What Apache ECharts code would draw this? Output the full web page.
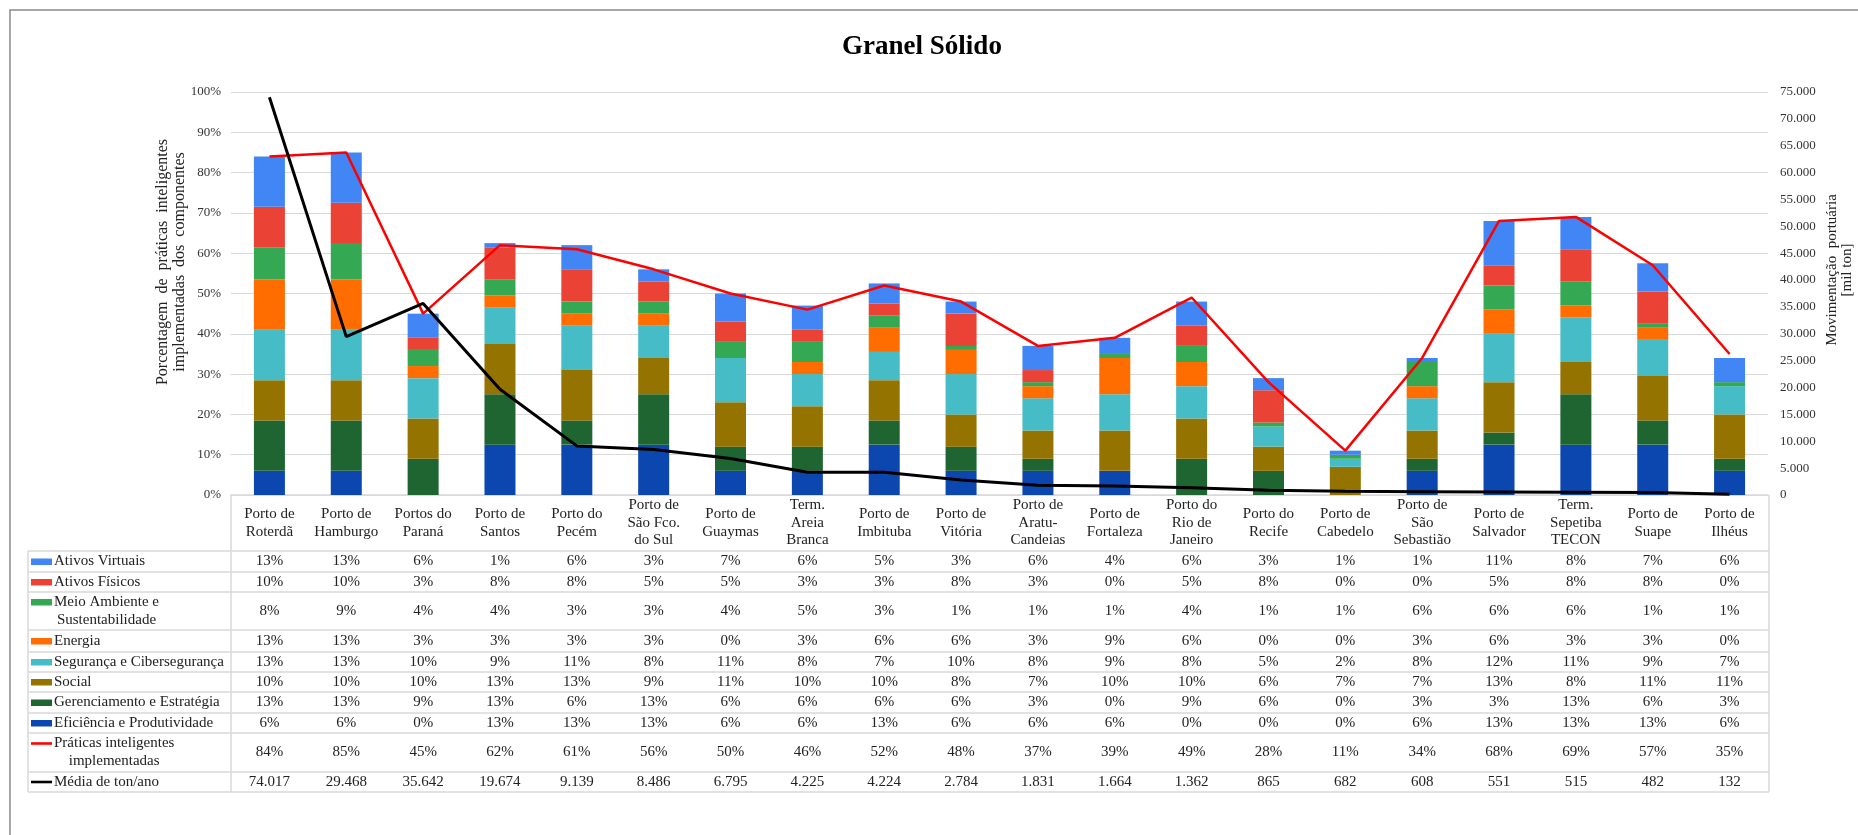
<!DOCTYPE html>
<html><head><meta charset="utf-8">
<script src="https://cdn.jsdelivr.net/npm/echarts@6/dist/echarts.min.js"></script>
<style>html,body{margin:0;padding:0;background:#fff}#c{width:1858px;height:835px}</style>
</head><body><div id="c"></div>
<script>
const categories = ['Porto de\nRoterdã','Porto de\nHamburgo','Portos do\nParaná','Porto de\nSantos','Porto do\nPecém','Porto de\nSão Fco.\ndo Sul','Porto de\nGuaymas','Term.\nAreia\nBranca','Porto de\nImbituba','Porto de\nVitória','Porto de\nAratu-\nCandeias','Porto de\nFortaleza','Porto do\nRio de\nJaneiro','Porto do\nRecife','Porto de\nCabedelo','Porto de\nSão\nSebastião','Porto de\nSalvador','Term.\nSepetiba\nTECON','Porto de\nSuape','Porto de\nIlhéus'];
// component shares (%); 12.5 = component maximum, shown as 13% in the table
const ativosVirtuais = [12.5,12.5,6,1,6,3,7,6,5,3,6,4,6,3,1,1,11,8,7,6];
const ativosFisicos  = [10,10,3,8,8,5,5,3,3,8,3,0,5,8,0,0,5,8,8,0];
const meioAmbiente   = [8,9,4,4,3,3,4,5,3,1,1,1,4,1,1,6,6,6,1,1];
const energia        = [12.5,12.5,3,3,3,3,0,3,6,6,3,9,6,0,0,3,6,3,3,0];
const seguranca      = [12.5,12.5,10,9,11,8,11,8,7,10,8,9,8,5,2,8,12,11,9,7];
const social         = [10,10,10,12.5,12.5,9,11,10,10,8,7,10,10,6,7,7,12.5,8,11,11];
const gerenciamento  = [12.5,12.5,9,12.5,6,12.5,6,6,6,6,3,0,9,6,0,3,3,12.5,6,3];
const eficiencia     = [6,6,0,12.5,12.5,12.5,6,6,12.5,6,6,6,0,0,0,6,12.5,12.5,12.5,6];
const praticas       = [84,85,45,62,61,56,50,46,52,48,37,39,49,28,11,34,68,69,57,35];
const mediaTon       = [74017,29468,35642,19674,9139,8486,6795,4225,4224,2784,1831,1664,1362,865,682,608,551,515,482,132];

const FONT = '"Liberation Serif","Times New Roman",serif';
const G = {left:231, top:92, width:1537, height:403};
const axisY = G.top + G.height;
const rowLines = [551,572,592,630,652,672,692,713,733,772,792];
const tableLeft = 28, tableRight = G.left + G.width + 1;

const fmtPct = v => Math.round(v) + '%';
const fmtTon = v => String(Math.round(v)).replace(/\B(?=(\d{3})+(?!\d))/g, '.');

const rows = [
  {name:'Ativos Virtuais', data:ativosVirtuais, color:'#4285F4', kind:'bar', fmt:fmtPct},
  {name:'Ativos Físicos', data:ativosFisicos, color:'#EA4335', kind:'bar', fmt:fmtPct},
  {name:'Meio Ambiente e\nSustentabilidade', data:meioAmbiente, color:'#34A853', kind:'bar', fmt:fmtPct},
  {name:'Energia', data:energia, color:'#FF6D01', kind:'bar', fmt:fmtPct},
  {name:'Segurança e Cibersegurança', data:seguranca, color:'#46BDC6', kind:'bar', fmt:fmtPct},
  {name:'Social', data:social, color:'#957300', kind:'bar', fmt:fmtPct},
  {name:'Gerenciamento e Estratégia', data:gerenciamento, color:'#1E6532', kind:'bar', fmt:fmtPct},
  {name:'Eficiência e Produtividade', data:eficiencia, color:'#0C47B0', kind:'bar', fmt:fmtPct},
  {name:'Práticas inteligentes\nimplementadas', data:praticas, color:'#FF0000', kind:'line', fmt:fmtPct},
  {name:'Média de ton/ano', data:mediaTon, color:'#000000', kind:'line', fmt:fmtTon}
];

const xAxes = [{
  type:'category', data:categories, gridIndex:0, position:'bottom',
  axisLine:{show:true, lineStyle:{color:'#d9d9d9', width:1.5}},
  axisTick:{show:false},
  axisLabel:{interval:0, margin:28, verticalAlign:'middle', lineHeight:17.5, fontFamily:FONT, fontSize:15, color:'#222'}
}];
rows.forEach((r, k) => {
  const center = (rowLines[k] + rowLines[k+1]) / 2;
  xAxes.push({
    type:'category', data:categories, gridIndex:0, position:'bottom', offset:center - axisY,
    axisLine:{show:false}, axisTick:{show:false}, splitLine:{show:false},
    axisLabel:{interval:0, margin:0, verticalAlign:'middle', fontFamily:FONT, fontSize:15, color:'#222',
      formatter:(v, i) => r.fmt(r.data[i])}
  });
});

const series = [];
rows.filter(r => r.kind === 'bar').reverse().forEach(r => {
  series.push({type:'bar', name:r.name, data:r.data, stack:'comp', barWidth:31, xAxisIndex:0, yAxisIndex:0,
    itemStyle:{color:r.color}, emphasis:{disabled:true}});
});
series.push({type:'line', name:'Práticas inteligentes implementadas', data:praticas, xAxisIndex:0, yAxisIndex:0,
  showSymbol:false, symbol:'none', lineStyle:{color:'#FF0000', width:2.5}, z:5});
series.push({type:'line', name:'Média de ton/ano', data:mediaTon, xAxisIndex:0, yAxisIndex:1,
  showSymbol:false, symbol:'none', lineStyle:{color:'#000000', width:3}, z:6});

// graphics: frame, table lines, row labels, titles
const ctx = document.createElement('canvas').getContext('2d');
ctx.font = '15px ' + FONT;
const graphic = [];
graphic.push({type:'rect', shape:{x:10, y:10, width:1900, height:900}, style:{fill:'none', stroke:'#8a8a8a', lineWidth:1.5}, silent:true, z:-10});
rowLines.forEach(y => graphic.push({type:'line', shape:{x1:tableLeft, y1:y, x2:tableRight, y2:y}, style:{stroke:'#d9d9d9', lineWidth:1.5}, silent:true}));
graphic.push({type:'line', shape:{x1:tableLeft, y1:rowLines[0], x2:tableLeft, y2:rowLines[rowLines.length-1]}, style:{stroke:'#d9d9d9', lineWidth:1.5}, silent:true});
graphic.push({type:'line', shape:{x1:G.left, y1:axisY, x2:G.left, y2:rowLines[rowLines.length-1]}, style:{stroke:'#d9d9d9', lineWidth:1.5}, silent:true});
graphic.push({type:'line', shape:{x1:tableRight, y1:axisY, x2:tableRight, y2:rowLines[rowLines.length-1]}, style:{stroke:'#d9d9d9', lineWidth:1.5}, silent:true});
rows.forEach((r, k) => {
  const lines = r.name.split('\n');
  const center = (rowLines[k] + rowLines[k+1]) / 2;
  const lh = 18;
  const firstY = center - (lines.length - 1) * lh / 2;
  if (r.kind === 'bar') {
    graphic.push({type:'rect', shape:{x:31, y:firstY - 3, width:21, height:6.5}, style:{fill:r.color}, silent:true});
  } else {
    graphic.push({type:'rect', shape:{x:31, y:firstY - 1.3, width:21, height:2.6}, style:{fill:r.color}, silent:true});
  }
  const w = Math.max(...lines.map(l => ctx.measureText(l).width));
  graphic.push({type:'text', x:54 + w / 2, y:center, silent:true,
    style:{text:r.name, align:'center', verticalAlign:'middle', lineHeight:lh, font:'15px ' + FONT, fill:'#222'}});
});
graphic.push({type:'text', x:922, y:47, silent:true,
  style:{text:'Granel Sólido', align:'center', verticalAlign:'middle', font:'bold 27px ' + FONT, fill:'#000'}});
graphic.push({type:'text', x:171, y:262, rotation:Math.PI/2, silent:true,
  style:{text:'Porcentagem  de  práticas  inteligentes\nimplementadas  dos  componentes', align:'center', verticalAlign:'middle', lineHeight:17, font:'16px ' + FONT, fill:'#222'}});
graphic.push({type:'text', x:1840, y:270, rotation:Math.PI/2, silent:true,
  style:{text:'Movimentação  portuária\n[mil ton]', align:'center', verticalAlign:'middle', lineHeight:15, font:'15px ' + FONT, fill:'#222'}});

const option = {
  animation:false,
  backgroundColor:'#fff',
  grid:{left:G.left, top:G.top, width:G.width, height:G.height, containLabel:false, outerBoundsMode:'none'},
  xAxis:xAxes,
  yAxis:[
    {type:'value', min:0, max:100, interval:10, position:'left',
      axisLine:{show:false}, axisTick:{show:false},
      splitLine:{show:true, lineStyle:{color:'#d9d9d9', width:1}},
      axisLabel:{formatter:'{value}%', margin:10, fontFamily:FONT, fontSize:13, color:'#333'}},
    {type:'value', min:0, max:75000, interval:5000, position:'right',
      axisLine:{show:false}, axisTick:{show:false}, splitLine:{show:false},
      axisLabel:{formatter:v => fmtTon(v), margin:12, fontFamily:FONT, fontSize:13, color:'#333'}}
  ],
  series:series,
  graphic:graphic
};
const chart = echarts.init(document.getElementById('c'), null, {renderer:'canvas'});
chart.setOption(option);
</script>
</body></html>
